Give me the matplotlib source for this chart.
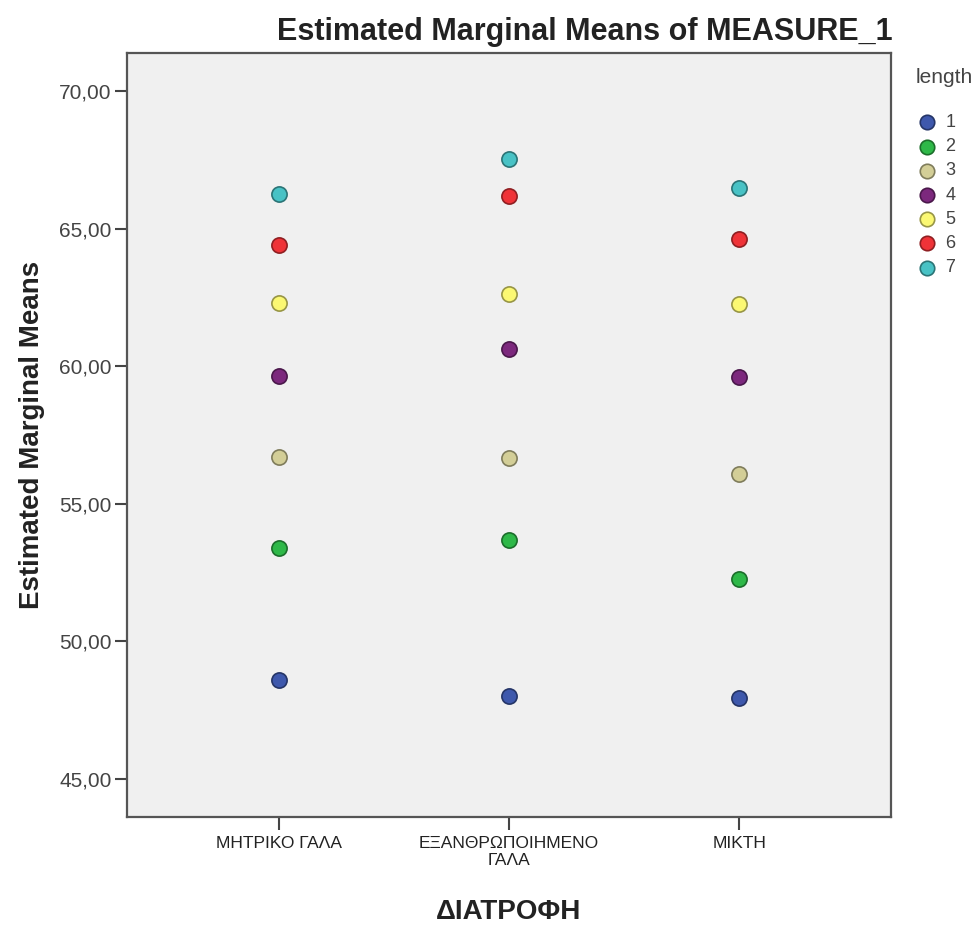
import matplotlib.pyplot as plt
import matplotlib.colors as mcolors

plt.rcParams['font.family'] = ['Liberation Sans', 'DejaVu Sans']

# categories on x axis (ΔΙΑΤΡΟΦΗ)
diet = ["ΜΗΤΡΙΚΟ ΓΑΛΑ", "ΕΞΑΝΘΡΩΠΟΙΗΜΕΝΟ\nΓΑΛΑ", "ΜΙΚΤΗ"]
lengths = ["1", "2", "3", "4", "5", "6", "7"]

# estimated marginal means per length level, one value per diet group
means_1 = [48.60, 48.02, 47.93]
means_2 = [53.39, 53.67, 52.26]
means_3 = [56.72, 56.66, 56.10]
means_4 = [59.66, 60.63, 59.61]
means_5 = [62.29, 62.62, 62.27]
means_6 = [64.42, 66.19, 64.63]
means_7 = [66.26, 67.53, 66.47]
all_means = [means_1, means_2, means_3, means_4, means_5, means_6, means_7]

colors = ["#3E58AC", "#2EB848", "#D3CE97", "#7C287D", "#FBF873", "#EF3338", "#48C2C5"]

fig = plt.figure(figsize=(9.77, 9.27), dpi=100)
ax = fig.add_axes([0.130, 0.1187, 0.782, 0.824])
ax.set_facecolor("#F0F0F0")

xpos = list(range(len(diet)))
handles = []
for lab, vals, c in zip(lengths, all_means, colors):
    edge = [v * 0.6 for v in mcolors.to_rgb(c)]
    h = ax.scatter(xpos, vals, s=120, color=c, edgecolors=[edge], linewidths=1.2,
                   zorder=3, label=lab)
    handles.append(h)

ax.set_xlim(-0.66, 2.66)
ax.set_ylim(43.62, 71.38)
ax.set_yticks([45, 50, 55, 60, 65, 70])
ax.set_yticklabels(["45,00", "50,00", "55,00", "60,00", "65,00", "70,00"])
ax.set_xticks(xpos)
ax.set_xticklabels(diet, fontsize=12.5, linespacing=1.15)

ax.tick_params(axis='y', labelsize=15, colors="#444444", length=9, width=1.5, direction='out', pad=2)
ax.tick_params(axis='x', length=9, width=1.5, direction='out', pad=5, colors="#444444")
for lbl in ax.get_xticklabels():
    lbl.set_color("#222222")

for s in ax.spines.values():
    s.set_color("#555555")
    s.set_linewidth(1.6)

ax.set_ylabel("Estimated Marginal Means", fontsize=20, fontweight='bold', color="#222222", labelpad=10)
ax.set_xlabel("ΔΙΑΤΡΟΦΗ", fontsize=20, fontweight='bold', color="#222222", labelpad=22)
fig.text(0.599, 0.965, "Estimated Marginal Means of MEASURE_1", fontsize=22, fontweight='bold',
         ha='center', va='center', color="#222222")

# legend
fig.text(0.966, 0.916, "length", fontsize=15, ha='center', va='center', color="#444444")
leg = fig.legend(handles=handles, loc='upper left',
                 bbox_to_anchor=(0.930, 0.877), frameon=False, fontsize=13,
                 handletextpad=0.05, labelspacing=0.4, borderpad=0.0,
                 borderaxespad=0.0, markerscale=0.95)
for t in leg.get_texts():
    t.set_color("#444444")

plt.savefig("out.png", dpi=100)
